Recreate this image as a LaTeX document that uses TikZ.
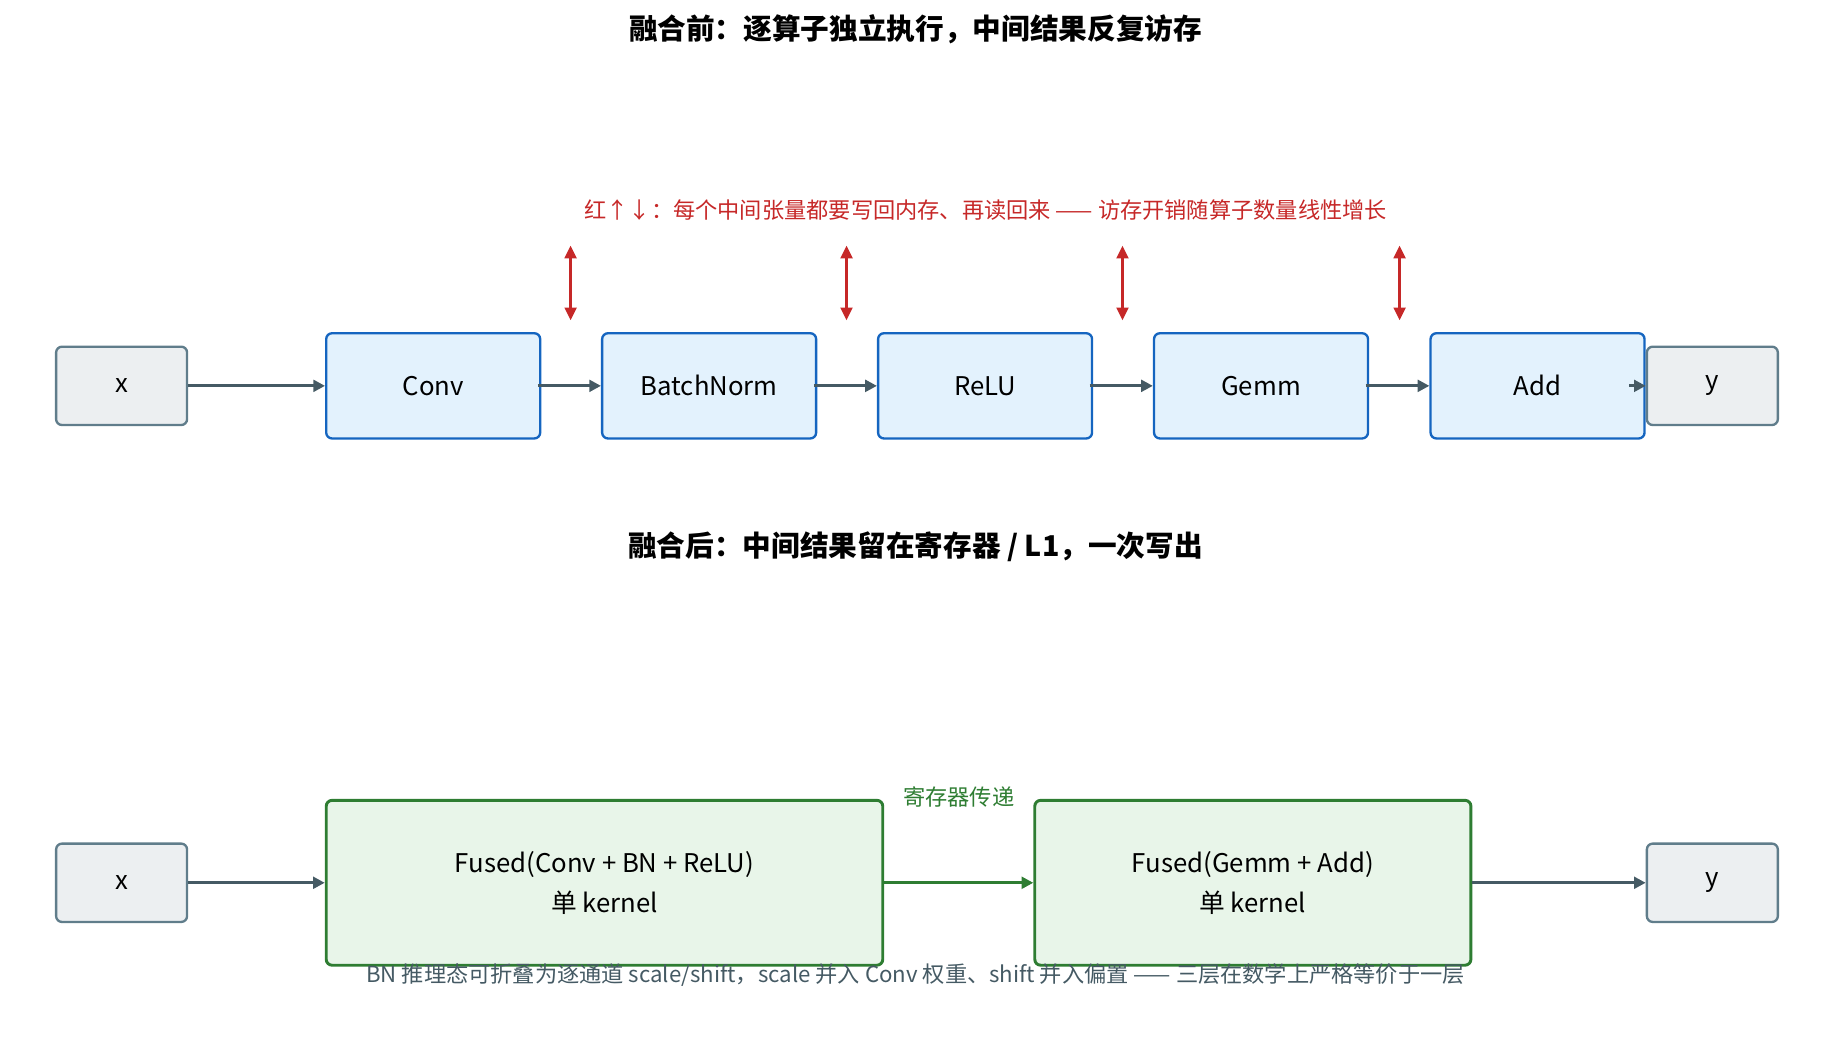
\documentclass[tikz,border=0pt]{standalone}
\usepackage{fontspec}
\setmainfont{Noto Sans CJK SC}
\usetikzlibrary{arrows.meta}
\definecolor{bfill}{HTML}{E3F2FD}\definecolor{bdraw}{HTML}{1565C0}
\definecolor{gfill}{HTML}{ECEFF1}\definecolor{gdraw}{HTML}{607D8B}
\definecolor{nfill}{HTML}{E8F5E9}\definecolor{ndraw}{HTML}{2E7D32}
\definecolor{arr}{HTML}{455A64}\definecolor{red}{HTML}{C62828}
\begin{document}
\begin{tikzpicture}[x=1pt,y=-1pt,
 op/.style={draw=bdraw,fill=bfill,line width=2pt,rounded corners=5pt,minimum width=183pt,minimum height=90pt,font=\fontsize{22}{26}\selectfont},
 io/.style={draw=gdraw,fill=gfill,line width=2pt,rounded corners=5pt,minimum width=112pt,minimum height=67pt,font=\fontsize{22}{26}\selectfont},
 fu/.style={draw=ndraw,fill=nfill,line width=2.5pt,rounded corners=5pt,minimum height=141pt,align=center,font=\fontsize{22}{34}\selectfont},
 ar/.style={draw=arr,line width=2.5pt,-{Triangle[length=10pt,width=10pt]}},
 rd/.style={draw=red,line width=2.5pt,{Triangle[length=11pt,width=10pt]}-{Triangle[length=11pt,width=10pt]}}]
\useasboundingbox (0,0) rectangle (1560,889);
\node[font=\bfseries\fontsize{24.5}{28}\selectfont] (t1) at (783,25) {融合前：逐算子独立执行，中间结果反复访存};
\node[font=\fontsize{19}{22}\selectfont,text=red] (note) at (843,180) {红↑↓：每个中间张量都要写回内存、再读回来 —— 访存开销随算子数量线性增长};
\node[io] (x1) at (104,330) {x};
\node[op] (conv) at (370.5,330) {Conv};
\node[op] (bn) at (606.5,330) {BatchNorm};
\node[op] (relu) at (842.5,330) {ReLU};
\node[op] (gemm) at (1078.5,330) {Gemm};
\node[op] (add) at (1315,330) {Add};
\node[io] (y1) at (1464.5,330) {y};
\draw[ar] (x1) -- (conv);
\draw[ar] ([xshift=-3pt]conv.east) -- (bn.west);
\draw[ar] ([xshift=-3pt]bn.east) -- (relu.west);
\draw[ar] ([xshift=-3pt]relu.east) -- (gemm.west);
\draw[ar] ([xshift=-3pt]gemm.east) -- (add.west);
\draw[ar] ([xshift=-14pt]add.east) -- (y1.west);
\foreach \n/\xx in {a/488,b/724,c/960,d/1197}{
 \coordinate (u\n) at (\xx,210); \coordinate (l\n) at (\xx,274);
 \draw[rd] (u\n) -- (l\n);}
\node[font=\bfseries\fontsize{24.5}{28}\selectfont] (t2) at (783,468) {融合后：中间结果留在寄存器 / L1，一次写出};
\node[io] (x2) at (104,755) {x};
\node[fu,minimum width=476pt] (f1) at (517,755) {Fused(Conv + BN + ReLU)\\单 kernel};
\node[fu,minimum width=373pt] (f2) at (1071.5,755) {Fused(Gemm + Add)\\单 kernel};
\node[io] (y2) at (1464.5,755) {y};
\draw[ar] (x2) -- (f1);
\draw[ar,draw=ndraw] (f1) -- node[above=60pt,text=ndraw,font=\fontsize{19}{22}\selectfont] {寄存器传递} (f2);
\draw[ar] (f2) -- (y2);
\node[font=\fontsize{19}{22}\selectfont,text=arr] (foot) at (783,834) {BN 推理态可折叠为逐通道 scale/shift，scale 并入 Conv 权重、shift 并入偏置 —— 三层在数学上严格等价于一层};
\end{tikzpicture}
\end{document}
